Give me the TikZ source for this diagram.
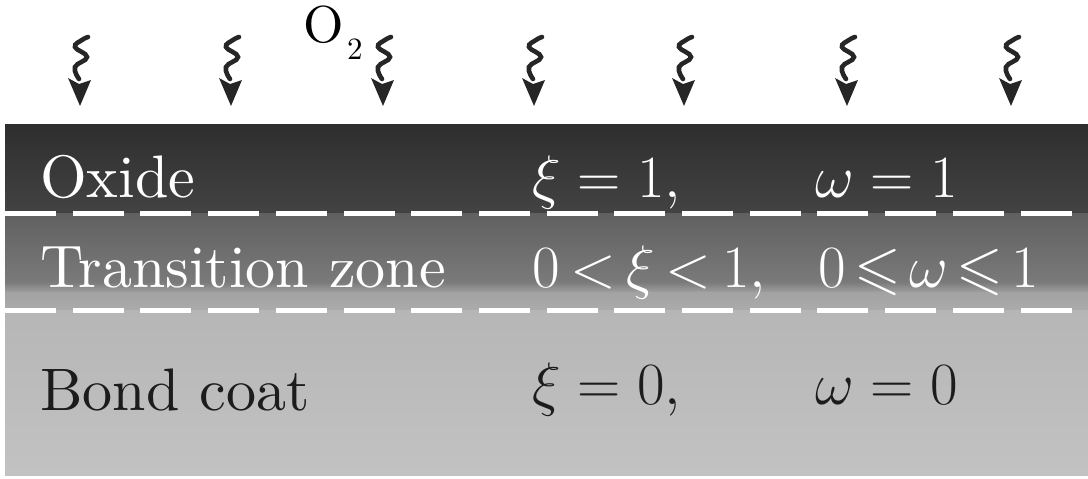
\RequirePackage{fix-cm}
\documentclass[tikz,border=0pt]{standalone}
\usepackage{fontspec}
\setmainfont{lmroman10-regular}[Extension=.otf]
\usepackage{amssymb}
\usetikzlibrary{arrows.meta}
\definecolor{oxtop}{HTML}{2E2E2E}
\definecolor{oxbot}{HTML}{434343}
\definecolor{tztop}{HTML}{606060}
\definecolor{tzmid}{HTML}{7A7A7A}
\definecolor{tzlow}{HTML}{A2A2A2}
\definecolor{tzbot}{HTML}{ACACAC}
\definecolor{bctop}{HTML}{B6B6B6}
\definecolor{bcbot}{HTML}{C2C2C2}
\definecolor{inkdark}{HTML}{1C1C1C}
\tikzset{
  bigtext/.style={inner sep=0pt, anchor=base west, font=\fontsize{60}{66}\selectfont},
  lighttext/.style={bigtext, text=white},
  darktext/.style={bigtext, text=inkdark},
  layerdash/.style={draw=white, line width=5pt, dash pattern=on 51pt off 16.7pt},
  o2arrow/.pic={
    \draw[line width=4.6pt, line cap=round, black!85]
      plot[smooth, tension=0.75] coordinates {(8,37) (2,40) (-5,47) (7,57) (-5,67) (-1,79)};
    \fill[black!85] (0,106) -- (-12,78) -- (-1,84) -- (11,80) -- cycle;
  }
}
\begin{document}
\begin{tikzpicture}[x=1pt,y=-1pt]
\useasboundingbox (0,0) rectangle (1088,479);
% layers
\shade[top color=oxtop, bottom color=oxbot] (5,124) rectangle (1088,214);
\shade[top color=tztop, bottom color=tzmid] (5,213) rectangle (1088,283);
\shade[top color=tzmid, bottom color=tzlow] (5,282) rectangle (1088,293);
\shade[top color=tzlow, bottom color=tzbot] (5,292) rectangle (1088,311);
\shade[top color=bctop, bottom color=bcbot] (5,310) rectangle (1088,475);
% dashed interfaces
\coordinate (d1a) at (5,213);
\coordinate (d1b) at (1088,213);
\coordinate (d2a) at (5,310);
\coordinate (d2b) at (1088,310);
\draw[layerdash] (d1a) -- (d1b);
\draw[layerdash] (d2a) -- (d2b);
% oxygen arrows
\foreach \ax in {80,231,383,534,684,847,1011}
  \pic at (\ax,0) {o2arrow};
\node[inner sep=0pt, anchor=base west, font=\fontsize{52}{54}\selectfont] (o2) at (303,42) {O};
\node[inner sep=0pt, anchor=base west, font=\fontsize{31}{33}\selectfont] (o2sub) at (347,59) {2};
% labels
\node[lighttext] (ox) at (40,197) {Oxide};
\node[lighttext] (oxa) at (532,197) {$\xi = 1,$};
\node[lighttext] (oxb) at (815,197) {$\omega = 1$};
\node[lighttext] (tz) at (40,287) {Transition zone};
\node[lighttext] (tza) at (532,287) {$\thickmuskip=3.2mu 0 < \xi < 1,$};
\node[lighttext] (tzb) at (818,287) {$\thickmuskip=2.5mu 0 \leqslant \omega \leqslant 1$};
\node[darktext] (bc) at (40,410) {Bond coat};
\node[darktext] (bca) at (532,404) {$\xi = 0,$};
\node[darktext] (bcb) at (815,404) {$\omega = 0$};
\end{tikzpicture}
\end{document}
